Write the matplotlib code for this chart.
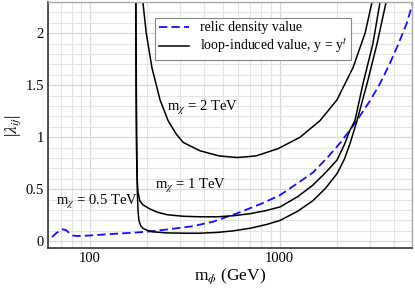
import matplotlib
matplotlib.use("Agg")
import matplotlib.pyplot as plt
from matplotlib.ticker import MultipleLocator, LogLocator, FixedLocator, NullFormatter

plt.rcParams['font.family'] = ['Liberation Serif', 'DejaVu Serif']
plt.rcParams['mathtext.fontset'] = 'stix'
plt.rcParams['lines.scale_dashes'] = False

# relic density value (blue dashed)
relic_m = [63, 66, 69, 72, 75, 78, 81, 85, 100, 130, 170, 210, 260, 350, 450, 600,
           800, 1000, 1250, 1500, 1800, 2100, 2560, 3000, 3400, 3800, 4200, 4700, 5100]
relic_lam = [0.04, 0.075, 0.10, 0.115, 0.105, 0.075, 0.055, 0.05, 0.055, 0.07, 0.082, 0.095,
             0.115, 0.145, 0.19, 0.27, 0.36, 0.44, 0.56, 0.66, 0.81, 0.95, 1.16, 1.35, 1.52,
             1.70, 1.88, 2.10, 2.32]

# loop-induced value, m_chi = 0.5 TeV
loop05_m = [174.5, 175.3, 176.2, 177.5, 179, 181, 185, 190, 200, 215, 255, 320, 380, 470, 570,
            700, 850, 1006, 1250, 1500, 1750, 2010, 2200, 2355, 2564, 2900, 3270, 3650, 3800]
loop05_lam = [2.5, 1.6, 1.0, 0.5, 0.3, 0.2, 0.15, 0.125, 0.105, 0.09, 0.08, 0.077, 0.077,
              0.085, 0.10, 0.125, 0.16, 0.2, 0.29, 0.39, 0.51, 0.65, 0.79, 0.94, 1.16, 1.52,
              1.9, 2.3, 2.5]

# loop-induced value, m_chi = 1 TeV
loop1_m = [174, 174.8, 175.8, 177, 179, 183, 190, 207, 226, 255, 310, 380, 470, 570,
           700, 850, 1006, 1250, 1500, 1750, 2010, 2200, 2355, 2500, 2760, 3110, 3390, 3550]
loop1_lam = [2.5, 1.5, 0.9, 0.62, 0.47, 0.39, 0.35, 0.31, 0.28, 0.255, 0.24, 0.235, 0.235,
             0.245, 0.265, 0.295, 0.33, 0.43, 0.54, 0.66, 0.78, 0.93, 1.07, 1.16, 1.52,
             1.9, 2.3, 2.5]

# loop-induced value, m_chi = 2 TeV
loop2_m = [187, 190, 198, 212, 234, 258, 285, 310, 380, 480, 600, 750, 982, 1283,
           1636, 2010, 2443, 2826, 3077, 3200]
loop2_lam = [2.5, 2.3, 2.0, 1.67, 1.36, 1.16, 1.03, 0.95, 0.87, 0.82, 0.805, 0.82,
             0.89, 1.0, 1.16, 1.36, 1.67, 2.0, 2.3, 2.5]

fig = plt.figure(figsize=(4.15, 2.89), dpi=100)
ax = fig.add_axes([0.1157, 0.1419, 0.8771, 0.8511])

ax.set_xscale('log')
ax.set_xlim(60, 5000)
ax.set_ylim(-0.065, 2.3)

ax.yaxis.set_major_locator(MultipleLocator(0.5))
ax.yaxis.set_minor_locator(MultipleLocator(0.1))
ax.xaxis.set_major_locator(FixedLocator([100, 1000]))
ax.xaxis.set_minor_locator(LogLocator(base=10, subs=range(2, 10)))
ax.xaxis.set_minor_formatter(NullFormatter())
ax.set_xticklabels(['100', '1000'])
ax.set_yticks([0, 0.5, 1, 1.5, 2])
ax.set_yticklabels(['0', '0.5', '1', '1.5', '2'])

ax.grid(which='major', color='#d8d8d8', linewidth=0.9)
ax.grid(which='minor', color='#e4e4e4', linewidth=0.8)
ax.set_axisbelow(True)
ax.tick_params(which='both', length=0, labelsize=10.5, pad=3)

for side in ['left', 'bottom']:
    ax.spines[side].set_color('#333333')
    ax.spines[side].set_linewidth(1.2)
for side in ['top', 'right']:
    ax.spines[side].set_color('#aaaaaa')
    ax.spines[side].set_linewidth(1.0)

ax.plot(relic_m, relic_lam, color='#1010ff', linewidth=1.3, dashes=(6, 3),
        label='relic density value')
ax.plot(loop05_m, loop05_lam, color='black', linewidth=1.1,
        label='loop-induced value, y = y$^{t}$')
ax.plot(loop1_m, loop1_lam, color='black', linewidth=1.1)
ax.plot(loop2_m, loop2_lam, color='black', linewidth=1.1)

ax.text(255, 1.28, 'm$_{\\chi}$ = 2 TeV', fontsize=10.5, va='center', ha='left')
ax.text(220, 0.53, 'm$_{\\chi}$ = 1 TeV', fontsize=10.5, va='center', ha='left')
ax.text(66, 0.375, 'm$_{\\chi}$ = 0.5 TeV', fontsize=10.5, va='center', ha='left')

ax.set_xlabel('m$_{\\phi}$ (GeV)', fontsize=12.5, labelpad=1)
ax.set_ylabel('|$\\lambda_{ij}$|', fontsize=12.5, labelpad=2)

leg = ax.legend(loc='upper left', bbox_to_anchor=(0.294, 0.935), borderaxespad=0,
                fontsize=10, fancybox=False, framealpha=1, edgecolor='#888888',
                handlelength=2.2, borderpad=0.25, labelspacing=0.2)
leg.get_frame().set_linewidth(0.8)

fig.savefig('out.png', dpi=100)
